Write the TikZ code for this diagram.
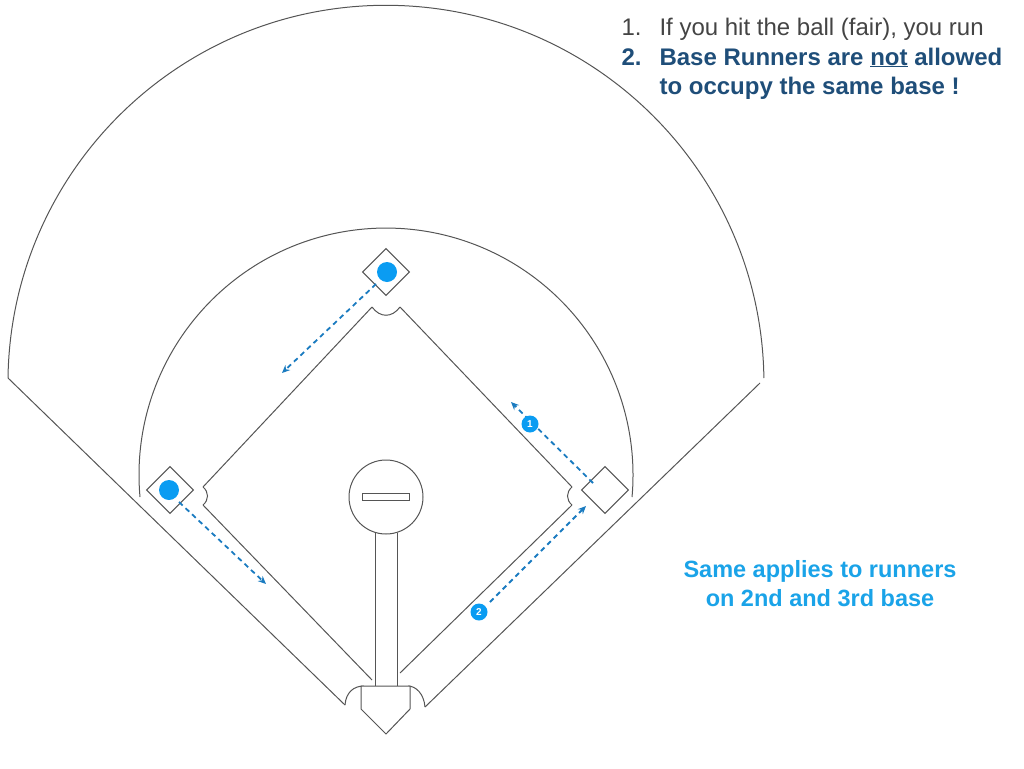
\documentclass[tikz,border=0pt]{standalone}
\usepackage{fontspec}
\setmainfont{Liberation Sans}
\usetikzlibrary{arrows.meta}
\definecolor{fieldline}{HTML}{555555}
\definecolor{runblue}{HTML}{1A7BC0}
\definecolor{dotblue}{HTML}{0A9CF2}
\definecolor{navy}{HTML}{1F4E79}
\definecolor{lightblue}{HTML}{1AA3E8}
\begin{document}
\begin{tikzpicture}[x=1pt,y=-1pt,
  field/.style={draw=fieldline,line width=1pt},
  base/.style={field,fill=white},
  run/.style={draw=runblue,line width=1.8pt,dash pattern=on 5pt off 4pt,-{Stealth[length=8pt,width=7pt]}},
  dot/.style={circle,fill=dotblue,minimum size=20pt,inner sep=0pt},
  num/.style={circle,fill=dotblue,text=white,font=\bfseries\fontsize{10}{10}\selectfont,minimum size=17pt,inner sep=0pt},
  txt/.style={anchor=base west,font=\fontsize{24}{24}\selectfont}]
\useasboundingbox (0,0) rectangle (1024,768);
% outer arc and foul lines
\draw[field] (8,378) arc[start angle=180.8,end angle=359.2,radius=378];
\draw[field] (8,378) -- (345,705);
\draw[field] (760,383) -- (425,707);
% infield arc
\draw[field] (140,497) arc[start angle=174.9,end angle=365.1,radius=247];
% inner base paths
\draw[field] (203,505) -- (372,680);
\draw[field] (400,673) -- (572,505);
\draw[field] (572,505) .. controls (566,500) and (566,492) .. (572,487);
\draw[field] (572,487) -- (400,307);
\draw[field] (400,307) .. controls (392,318) and (380,318) .. (372,307);
\draw[field] (372,307) -- (203,487);
\draw[field] (203,487) .. controls (209,492) and (209,500) .. (203,505);
% home plate arcs
\draw[field] (345,705) .. controls (346,692) and (354,686) .. (364,686);
\draw[field] (425,707) .. controls (424,694) and (416,686) .. (408,686);
% mound and path
\draw[field] (375,533) -- (375,686);
\draw[field] (397,533) -- (397,686);
\node[base,circle,minimum size=74pt,inner sep=0pt] (mound) at (386,497) {};
\node[base,minimum width=47pt,minimum height=7pt,inner sep=0pt] (rubber) at (386,496.5) {};
\draw[base] (361,686) -- (410,686) -- (410,709) -- (386,734) -- (361,709) -- cycle;
% bases
\node[base,minimum size=33pt,inner sep=0pt,rotate=45] (second) at (386,272) {};
\node[base,minimum size=33pt,inner sep=0pt,rotate=45] (third) at (170,490) {};
\node[base,minimum size=33pt,inner sep=0pt,rotate=45] (first) at (605,490) {};
\node[dot] (r2) at (387,272) {};
\node[dot] (r3) at (169,490) {};
% runs
\coordinate (a1s) at (593,483); \coordinate (a1e) at (511,402);
\coordinate (a2s) at (490,602); \coordinate (a2e) at (586,506);
\coordinate (a3s) at (376,284); \coordinate (a3e) at (282,373);
\coordinate (a4s) at (179,502); \coordinate (a4e) at (266,584);
\draw[run] (a1s) -- (a1e);
\draw[run] (a2s) -- (a2e);
\draw[run] (a3s) -- (a3e);
\draw[run] (a4s) -- (a4e);
\node[num] (n1) at (530,424) {1};
\node[num] (n2) at (479,612) {2};
% texts
\node[txt,text=fieldline!80!black] (m1) at (618,36) {1.};
\node[txt,text=fieldline!80!black] (t1) at (656,36) {If you hit the ball (fair), you run};
\node[txt,text=navy,font=\bfseries\fontsize{24}{24}\selectfont] (m2) at (618,65) {2.};
\node[txt,text=navy,font=\bfseries\fontsize{24}{24}\selectfont] (t2) at (656,65) {Base Runners are \underline{not} allowed};
\node[txt,text=navy,font=\bfseries\fontsize{24}{24}\selectfont] (t3) at (656,94) {to occupy the same base !};
\node[align=center,text=lightblue,font=\bfseries\fontsize{23.5}{29}\selectfont] (t4) at (820,584) {Same applies to runners\\ on 2nd and 3rd base};
\end{tikzpicture}
\end{document}
